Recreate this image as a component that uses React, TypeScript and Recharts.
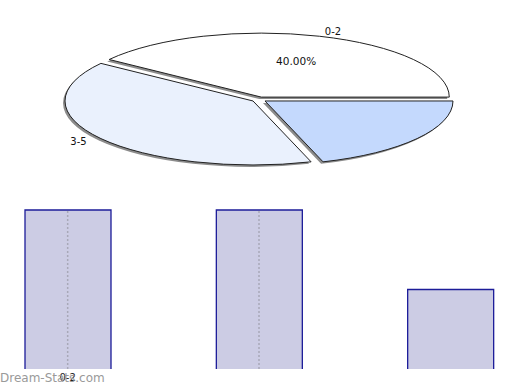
import React from "react";
import { PieChart, Pie, Cell, BarChart, Bar, XAxis, YAxis, ReferenceLine } from "recharts";

const categories = ["0-2", "3-5", "6+"];
const counts = [40, 40, 20];
const pieColors = ["#ffffff", "#eaf1fd", "#c4d9fd"];
const axisTicks = ["0-2"];
const guideCategories = ["0-2", "3-5"];

const pieData = categories.map((name, i) => ({ name, value: counts[i] }));
const barData = categories.map((name, i) => ({ name, value: counts[i] }));

const FONT = "'DejaVu Sans', sans-serif";
const FLAT = 64 / 188; // vertical squash of the pie ellipse
const EXPLODE = 7.4;

const RAD = Math.PI / 180;

function ellipseSectorPath(vx: number, vy: number, rx: number, ry: number, a0: number, a1: number) {
  const x0 = vx + rx * Math.cos(a0 * RAD);
  const y0 = vy - ry * Math.sin(a0 * RAD);
  const x1 = vx + rx * Math.cos(a1 * RAD);
  const y1 = vy - ry * Math.sin(a1 * RAD);
  const large = Math.abs(a1 - a0) > 180 ? 1 : 0;
  return `M${vx},${vy} L${x0},${y0} A${rx},${ry} 0 ${large} 0 ${x1},${y1} Z`;
}

const SliceAndLabel = (props: any) => {
  const { cx, cy, startAngle, endAngle, midAngle, outerRadius, percent, index, payload } = props;
  const rx = outerRadius;
  const ry = outerRadius * FLAT;
  const vx = cx + EXPLODE * Math.cos(midAngle * RAD);
  const vy = cy - EXPLODE * FLAT * Math.sin(midAngle * RAD);
  const d = ellipseSectorPath(vx, vy, rx, ry, startAngle, endAngle);
  const shadow = ellipseSectorPath(vx - 2, vy + 2, rx, ry, startAngle, endAngle);
  const cos = Math.cos(midAngle * RAD);
  const sin = Math.sin(midAngle * RAD);
  const lx = cx + (rx + 25) * cos;
  const ly = cy - (ry + 8) * sin;
  const px = vx + rx * 0.6 * cos;
  const py = vy - ry * 0.6 * sin;
  const name = payload?.name ?? categories[index];
  return (
    <g>
      <path d={shadow} fill="#8c8c8c" stroke="none" />
      <path d={d} fill={pieColors[index]} stroke="#222" strokeWidth={1} />
      {percent >= 0.25 && (
        <text x={lx} y={ly} textAnchor={cos >= 0 ? "start" : "end"} dominantBaseline="central"
          fontFamily={FONT} fontSize={10} fill="#111">{name}</text>
      )}
      {index === 0 && (
        <text x={px} y={py} textAnchor="middle" dominantBaseline="central"
          fontFamily={FONT} fontSize={10.5} fill="#111">{(percent * 100).toFixed(2)}%</text>
      )}
    </g>
  );
};

const OpenBar = (props: any) => {
  const { x, y, width, height, fill } = props;
  if (height <= 0) return null;
  return (
    <g>
      <rect x={x} y={y} width={width} height={height} fill={fill} />
      <path d={`M${x},${y + height} L${x},${y} L${x + width},${y} L${x + width},${y + height}`}
        fill="none" stroke="#1c1c99" strokeWidth={1.3} />
    </g>
  );
};

const AxisTick = (props: any) => {
  const { x, y, payload } = props;
  return (
    <text x={x} y={y} dy={0} textAnchor="middle" dominantBaseline="central" fontFamily={FONT} fontSize={10} fill="#222">
      {payload.value}
    </text>
  );
};

export default function App() {
  return (
    <div style={{ position: "absolute", left: 0, top: 0, width: 520, height: 390, overflow: "hidden", background: "#fff" }}>
      <div style={{ position: "absolute", left: 0, top: 0 }}>
        <PieChart width={520} height={200} margin={{ top: 0, right: 0, bottom: 0, left: 0 }}>
          <Pie data={pieData} dataKey="value" nameKey="name" cx={259} cy={99.5} outerRadius={188}
            startAngle={0} endAngle={360} isAnimationActive={false} labelLine={false} label={SliceAndLabel}
            stroke="none">
            {pieData.map((d, i) => (
              <Cell key={d.name} fill="none" stroke="none" />
            ))}
          </Pie>
        </PieChart>
      </div>
      <div style={{ position: "absolute", left: -28, top: 200 }}>
        <BarChart width={574} height={190} data={barData} margin={{ top: 10, right: 0, bottom: 0, left: 0 }}>
          <XAxis dataKey="name" height={21} axisLine={false} tickLine={false} ticks={axisTicks} tick={<AxisTick />} interval={0} />
          <YAxis hide domain={[0, 40]} />
          <Bar dataKey="value" fill="#ccccE4" barSize={86} shape={<OpenBar />} isAnimationActive={false} />
          {guideCategories.map((c) => (
            <ReferenceLine key={c} x={c} stroke="#a8a8b8" strokeWidth={1.5} strokeDasharray="2 2" />
          ))}
        </BarChart>
      </div>
      <div style={{ position: "absolute", left: 0, top: 371, fontFamily: FONT, fontSize: 12, color: "#9a9a9a", lineHeight: "14px" }}>
        Dream-Stats.com
      </div>
    </div>
  );
}
